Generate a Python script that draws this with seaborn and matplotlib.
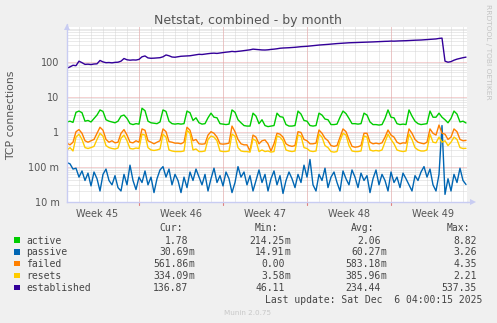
import numpy as np
import pandas as pd
import matplotlib
matplotlib.use("Agg")
import matplotlib.pyplot as plt
import seaborn as sns
from matplotlib.patches import Rectangle
from matplotlib.ticker import FixedLocator, NullFormatter, NullLocator

# ---- data: 6-hour samples over the month -------------------------------
STEP_DAYS = 0.25
series_names = ["active", "passive", "failed", "resets", "established"]
series_colors = ["#00CC00", "#0066B3", "#FF8000", "#FFCC00", "#330099"]

active = [
    1.9, 2.0, 1.85, 3.6, 3.9, 3.5, 2.0, 2.1, 1.9, 2.4,
    3.0, 4.2, 3.8, 2.2, 2.0, 1.9, 1.8, 2.0, 2.8, 3.0,
    2.4, 1.7, 1.6, 1.7, 1.65, 4.7, 4.0, 2.0, 1.8, 1.75,
    1.7, 1.9, 4.2, 3.8, 2.0, 1.7, 1.65, 1.7, 1.65, 1.7,
    3.9, 3.5, 2.1, 2.5, 1.8, 1.65, 1.7, 2.5, 3.4, 2.6,
    2.5, 1.7, 1.65, 1.6, 1.65, 4.2, 3.6, 2.2, 1.8, 1.5,
    1.45, 1.45, 3.4, 2.8, 1.7, 2.2, 1.5, 1.4, 1.45, 1.5,
    3.4, 2.7, 2.6, 1.6, 1.45, 1.45, 1.5, 3.9, 3.2, 2.1,
    2.0, 1.5, 1.45, 1.5, 3.4, 3.0, 2.3, 2.2, 1.6, 1.6,
    1.65, 2.6, 3.9, 3.3, 2.4, 1.7, 1.7, 1.65, 1.7, 3.4,
    3.0, 1.9, 1.6, 1.6, 1.55, 1.6, 2.4, 4.2, 2.6, 2.5,
    1.7, 1.6, 1.65, 1.6, 4.2, 2.8, 2.0, 1.7, 1.6, 1.65,
    1.7, 3.9, 2.6, 2.6, 3.4, 2.6, 2.2, 1.8, 2.4, 3.9,
    3.2, 1.9, 2.0, 1.78,
]

passive = [
    0.13, 0.12, 0.085, 0.09, 0.05, 0.075, 0.04, 0.065, 0.028, 0.07,
    0.045, 0.02, 0.06, 0.085, 0.04, 0.03, 0.055, 0.025, 0.02, 0.06,
    0.03, 0.11, 0.04, 0.022, 0.05, 0.035, 0.075, 0.03, 0.05, 0.018,
    0.045, 0.08, 0.1, 0.05, 0.085, 0.03, 0.06, 0.04, 0.018, 0.05,
    0.025, 0.07, 0.04, 0.085, 0.05, 0.03, 0.06, 0.02, 0.045, 0.09,
    0.035, 0.055, 0.028, 0.07, 0.045, 0.018, 0.035, 0.1, 0.05, 0.07,
    0.03, 0.055, 0.02, 0.04, 0.08, 0.035, 0.06, 0.02, 0.045, 0.075,
    0.03, 0.055, 0.017, 0.04, 0.07, 0.045, 0.025, 0.06, 0.035, 0.11,
    0.05, 0.16, 0.03, 0.02, 0.06, 0.04, 0.09, 0.025, 0.05, 0.07,
    0.035, 0.02, 0.075, 0.045, 0.03, 0.08, 0.05, 0.025, 0.065, 0.04,
    0.055, 0.018, 0.045, 0.08, 0.03, 0.06, 0.04, 0.02, 0.07, 0.035,
    0.05, 0.025, 0.065, 0.045, 0.03, 0.02, 0.055, 0.04, 0.07, 0.1,
    0.05, 0.085, 0.03, 0.02, 0.06, 1.5, 0.016, 0.045, 0.02, 0.06,
    0.035, 0.09, 0.04, 0.03069,
]

failed = [
    0.47, 0.42, 0.5, 1.0, 1.15, 0.9, 0.55, 0.5, 0.55, 0.6,
    0.9, 1.34, 1.1, 0.6, 0.5, 0.55, 0.48, 0.5, 0.9, 1.15,
    0.8, 0.5, 0.48, 0.55, 0.5, 1.2, 1.1, 0.55, 0.5, 0.45,
    0.5, 0.55, 1.2, 1.0, 0.52, 0.5, 0.47, 0.47, 0.45, 0.5,
    1.34, 1.1, 0.55, 0.6, 0.45, 0.44, 0.45, 0.8, 1.0, 0.9,
    0.7, 0.45, 0.44, 0.45, 0.47, 1.45, 1.0, 0.6, 0.45, 0.42,
    0.42, 0.28, 0.8, 0.7, 0.45, 0.55, 0.58, 0.45, 0.28, 0.45,
    0.9, 0.85, 0.7, 0.45, 0.4, 0.38, 0.4, 1.0, 0.95, 0.6,
    0.55, 0.45, 0.45, 0.47, 1.12, 0.9, 0.65, 0.55, 0.4, 0.38,
    0.4, 0.7, 1.2, 1.0, 0.6, 0.38, 0.36, 0.37, 0.4, 0.9,
    0.9, 0.5, 0.45, 0.47, 0.45, 0.48, 0.7, 1.12, 0.8, 0.7,
    0.5, 0.45, 0.48, 0.47, 1.2, 0.9, 0.6, 0.5, 0.47, 0.45,
    0.5, 1.2, 0.9, 0.8, 1.55, 0.9, 0.85, 0.6, 0.7, 1.2,
    1.0, 0.6, 0.55, 0.56186,
]

resets = [
    0.3, 0.35, 0.28, 0.7, 0.85, 0.6, 0.35, 0.33, 0.35, 0.38,
    0.6, 0.9, 0.75, 0.4, 0.35, 0.33, 0.32, 0.34, 0.65, 0.8,
    0.55, 0.33, 0.32, 0.34, 0.33, 0.85, 0.8, 0.35, 0.3, 0.29,
    0.3, 0.32, 0.85, 0.7, 0.3, 0.28, 0.27, 0.27, 0.27, 0.28,
    1.1, 0.9, 0.3, 0.32, 0.27, 0.27, 0.28, 0.6, 0.75, 0.7,
    0.55, 0.28, 0.27, 0.27, 0.28, 0.85, 0.75, 0.35, 0.28, 0.27,
    0.27, 0.26, 0.62, 0.55, 0.27, 0.3, 0.27, 0.28, 0.26, 0.27,
    0.75, 0.7, 0.55, 0.3, 0.28, 0.27, 0.28, 0.8, 0.75, 0.35,
    0.33, 0.28, 0.27, 0.28, 0.85, 0.7, 0.4, 0.35, 0.27, 0.26,
    0.27, 0.55, 0.9, 0.8, 0.4, 0.28, 0.27, 0.27, 0.28, 0.75,
    0.7, 0.3, 0.28, 0.29, 0.28, 0.3, 0.5, 0.85, 0.6, 0.45,
    0.3, 0.28, 0.27, 0.28, 0.85, 0.6, 0.35, 0.3, 0.28, 0.28,
    0.3, 0.85, 0.5, 0.48, 0.7, 0.5, 0.55, 0.4, 0.5, 0.7,
    0.6, 0.35, 0.33, 0.33409,
]

established = [
    66, 72, 80, 78, 105, 95, 85, 86, 84, 87,
    88, 110, 100, 95, 96, 94, 97, 98, 105, 125,
    115, 112, 114, 113, 118, 140, 148, 130, 127, 128,
    130, 132, 140, 158, 150, 138, 136, 140, 145, 147,
    148, 150, 155, 160, 165, 163, 168, 172, 176, 178,
    175, 180, 185, 190, 194, 200, 196, 200, 205, 210,
    215, 222, 232, 228, 224, 220, 219, 222, 228, 232,
    238, 246, 250, 252, 255, 258, 262, 268, 273, 276,
    280, 286, 292, 298, 304, 308, 312, 318, 324, 330,
    335, 340, 345, 350, 353, 356, 358, 360, 363, 366,
    368, 370, 374, 378, 382, 385, 388, 390, 395, 393,
    397, 400, 402, 405, 410, 414, 418, 420, 424, 430,
    436, 440, 446, 455, 470, 480, 105, 98, 102, 112,
    120, 126, 132, 136.87,
]

# legend statistics
stat_cur = ["1.78", "30.69m", "561.86m", "334.09m", "136.87"]
stat_min = ["214.25m", "14.91m", "0.00", "3.58m", "46.11"]
stat_avg = ["2.06", "60.27m", "583.18m", "385.96m", "234.44"]
stat_max = ["8.82", "3.26", "4.35", "2.21", "537.35"]

week_labels = ["Week 45", "Week 46", "Week 47", "Week 48", "Week 49"]
week_starts = [6, 13, 20, 27]          # Monday boundaries, in days
y_major = [0.01, 0.1, 1, 10, 100]
y_major_labels = ["10 m", "100 m", "1", "10", "100"]

# ---- figure ------------------------------------------------------------
sns.set_theme(style="white")
plt.rcParams["font.family"] = ["DejaVu Sans"]

W, H = 497, 323
BG = "#F0F0F0"
TXT = "#555555"
AXIS = "#C8CCF2"
MINOR = "#D6D6D6"
MAJOR = "#ECA6A6"

fig = plt.figure(figsize=(W / 100, H / 100), dpi=100, facecolor=BG)
left, right, top, bottom = 67, 467, 27.0, 201.5
ax = fig.add_axes([left / W, 1 - bottom / H, (right - left) / W, (bottom - top) / H])
ax.set_facecolor("white")

n = len(active)
days = np.arange(n) * STEP_DAYS
frame = pd.concat(
    [pd.DataFrame({"day": days, "value": vals, "series": name})
     for name, vals in zip(series_names, [active, passive, failed, resets, established])],
    ignore_index=True,
)

sns.lineplot(
    data=frame, x="day", y="value", hue="series", hue_order=series_names,
    palette=dict(zip(series_names, series_colors)), estimator=None, sort=False,
    linewidth=1.0, legend=False, ax=ax, zorder=3,
)

ax.set_yscale("log")
ax.set_ylim(0.01, 1000)
ax.set_xlim(0, (right - left) / 12.0)
ax.set_xlabel("")
ax.set_ylabel("")

# y grid: decades red, 2..9 grey
ax.yaxis.set_major_locator(FixedLocator(y_major))
ax.yaxis.set_major_formatter(matplotlib.ticker.FixedFormatter(y_major_labels))
minor_y = [m * 10.0 ** e for e in range(-2, 3) for m in range(2, 10)]
ax.yaxis.set_minor_locator(FixedLocator(minor_y))
ax.yaxis.set_minor_formatter(NullFormatter())
ax.grid(True, which="major", axis="y", color=MAJOR, linestyle=(0, (1, 1)), linewidth=0.72, zorder=1)
ax.grid(True, which="minor", axis="y", color=MINOR, linestyle=(0, (1, 1)), linewidth=0.72, zorder=0.5)

# x: one grey line per day, red at week starts, labels mid-week
ax.xaxis.set_minor_locator(FixedLocator(np.arange(1, 34)))
ax.xaxis.set_major_locator(FixedLocator([d + 3.5 for d in [-1] + week_starts]))
ax.xaxis.set_major_formatter(matplotlib.ticker.FixedFormatter(week_labels))
ax.grid(True, which="minor", axis="x", color=MINOR, linestyle=(0, (1, 1)), linewidth=0.72, zorder=0.5)
for d in week_starts:
    ax.axvline(d, color=MAJOR, linestyle=(0, (1, 1)), linewidth=0.72, zorder=1.2)
    ax.plot([d, d], [0, -3.0 / (bottom - top)], transform=ax.get_xaxis_transform(),
            color="#E08080", linewidth=0.8, clip_on=False, zorder=4)
ax.set_axisbelow(True)

ax.tick_params(axis="x", which="major", length=0, pad=5.2, labelsize=7, labelcolor=TXT)
ax.tick_params(axis="x", which="minor", length=0)
ax.tick_params(axis="y", which="major", length=2.2, width=0.8, color="#E08080", pad=3.2,
               labelsize=7, labelcolor=TXT, direction="out")
ax.tick_params(axis="y", which="minor", length=0)

for s in ["top", "right"]:
    ax.spines[s].set_visible(False)
for s in ["left", "bottom"]:
    ax.spines[s].set_color(AXIS)
    ax.spines[s].set_linewidth(1.0)
    ax.spines[s].set_zorder(5)

# axis arrow heads
ax.plot([0], [1.0], marker="^", markersize=4.5, color=AXIS, transform=ax.transAxes,
        clip_on=False, zorder=6, markeredgewidth=0)
ax.plot([0], [1.0], transform=ax.transAxes)
ax.plot([0, 0], [1.0, 1.02], color=AXIS, lw=1.0, transform=ax.transAxes, clip_on=False)
ax.plot([1.0, 1.012], [0, 0], color=AXIS, lw=1.0, transform=ax.transAxes, clip_on=False)
ax.plot([1.015], [0.0], marker=">", markersize=4.5, color=AXIS, transform=ax.transAxes,
        clip_on=False, zorder=6, markeredgewidth=0)

# ---- texts -------------------------------------------------------------
def fy(y):
    return 1 - y / H

fig.text(248 / W, fy(23.8), "Netstat, combined - by month", ha="center", va="baseline",
         fontsize=9, color=TXT)
fig.text(11 / W, fy(115), "TCP connections", rotation=90, ha="center", va="center",
         fontsize=7.8, color=TXT)
fig.text(488 / W, fy(4.5), "RRDTOOL / TOBI OETIKER", rotation=270, ha="center", va="top",
         fontsize=5.4, color="#C4C4C4")

MONO = "DejaVu Sans Mono"
LEG = "#444444"
CH = 5.85  # monospace advance in px
rows_y = [240.2, 251.9, 263.6, 275.6, 287.6]
header_y = 227.4

for label, right_x in zip(["Cur:", "Min:", "Avg:", "Max:"], [182.5, 278.5, 374.5, 470.5]):
    fig.text(right_x / W, fy(header_y + 3.5), label, ha="right", va="baseline",
             family=MONO, fontsize=7, color=LEG)

digit_ends = [188.4, 284.4, 380.6, 476.7]
for k, (name, col) in enumerate(zip(series_names, series_colors)):
    y = rows_y[k]
    fig.add_artist(Rectangle((14 / W, fy(y + 2.8)), 5.6 / W, 5.6 / H,
                             transform=fig.transFigure, color=col, lw=0))
    fig.text(26.5 / W, fy(y + 3.5), name, ha="left", va="baseline",
             family=MONO, fontsize=7, color=LEG)
    for col_vals, xe in zip([stat_cur, stat_min, stat_avg, stat_max], digit_ends):
        s = col_vals[k]
        num, suf = (s[:-1], s[-1]) if s.endswith("m") else (s, "")
        fig.text(xe / W, fy(y + 3.5), num, ha="right", va="baseline",
                 family=MONO, fontsize=7, color=LEG)
        if suf:
            fig.text(xe / W, fy(y + 3.5), suf, ha="left", va="baseline",
                     family=MONO, fontsize=7, color=LEG)

fig.text(482.5 / W, fy(299.3 + 3.5), "Last update: Sat Dec  6 04:00:15 2025", ha="right",
         va="baseline", family=MONO, fontsize=7, color=LEG)
fig.text(248 / W, fy(312.3 + 2.5), "Munin 2.0.75", ha="center", va="baseline",
         fontsize=5.2, color="#C8C8C8")

fig.savefig("out.png", dpi=100, facecolor=BG)
